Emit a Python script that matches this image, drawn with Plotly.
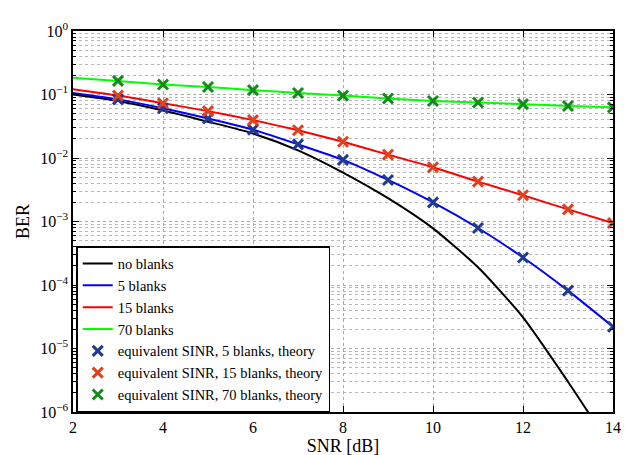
import plotly.graph_objects as go

# ---- data ----
snr_line = [2, 3, 4, 5, 6, 7, 8, 9, 10, 11, 12, 13, 14]
ber_none = [0.100, 0.079, 0.056, 0.0373, 0.0243, 0.0132, 0.0059, 0.00233, 7.8e-4, 1.9e-4, 3.1e-5, 3.0e-6, 2.5e-7]
ber_5 = [0.106, 0.0838, 0.0607, 0.0419, 0.0279, 0.0164, 0.00933, 0.00451, 0.0020, 7.9e-4, 2.71e-4, 8.15e-5, 2.2e-5]
ber_15 = [0.121, 0.0962, 0.0729, 0.0547, 0.0395, 0.0273, 0.0180, 0.0113, 0.00714, 0.00425, 0.00259, 0.00155, 9.46e-4]
ber_70 = [0.184, 0.1637, 0.144, 0.1315, 0.117, 0.1057, 0.0962, 0.0867, 0.079, 0.0747, 0.0705, 0.0658, 0.0628]

snr_th = [3, 4, 5, 6, 7, 8, 9, 10, 11, 12, 13, 14]
th_5 = [0.0838, 0.0607, 0.0419, 0.0279, 0.0164, 0.00933, 0.00451, 0.0020, 7.9e-4, 2.71e-4, 8.15e-5, 2.2e-5]
th_15 = [0.0962, 0.0729, 0.0547, 0.0395, 0.0273, 0.0180, 0.0113, 0.00714, 0.00425, 0.00259, 0.00155, 9.46e-4]
th_70 = [0.1637, 0.144, 0.1315, 0.117, 0.1057, 0.0962, 0.0867, 0.079, 0.0747, 0.0705, 0.0658, 0.0628]

x_ticks = [2, 4, 6, 8, 10, 12, 14]
y_exps = [0, -1, -2, -3, -4, -5, -6]

FONT = "Times New Roman, Liberation Serif, serif"

fig = go.Figure()
lines = [("no blanks", ber_none, "#000000"),
         ("5 blanks", ber_5, "#0000FF"),
         ("15 blanks", ber_15, "#FF0000"),
         ("70 blanks", ber_70, "#00FF00")]
for name, ys, c in lines:
    fig.add_trace(go.Scatter(x=snr_line, y=ys, mode="lines", name=name,
                             line=dict(color=c, width=2, shape="spline", smoothing=0.6)))

marks = [("equivalent SINR, 5 blanks, theory", th_5, "#1F3A93"),
         ("equivalent SINR, 15 blanks, theory", th_15, "#E0401C"),
         ("equivalent SINR, 70 blanks, theory", th_70, "#138A1A")]
for name, ys, c in marks:
    fig.add_trace(go.Scatter(x=snr_th, y=ys, mode="markers", name=name,
                             marker=dict(symbol="x-thin", size=10, color=c,
                                         line=dict(width=3, color=c))))

minor_vals = []
for e in range(-6, 0):
    for m in range(2, 10):
        minor_vals.append(m * 10 ** e)

sup = {0: "0", -1: "\u22121", -2: "\u22122", -3: "\u22123", -4: "\u22124", -5: "\u22125", -6: "\u22126"}

fig.update_layout(
    width=635, height=455,
    margin=dict(l=65, r=30, t=14, b=43),
    paper_bgcolor="white", plot_bgcolor="white",
    font=dict(family=FONT, size=15, color="black"),
    showlegend=True,
    legend=dict(x=0.006, y=0.0, xanchor="left", yanchor="bottom",
                bgcolor="white", bordercolor="black", borderwidth=1.5,
                font=dict(family=FONT, size=14.5), itemwidth=30,
                tracegroupgap=0),
    xaxis=dict(range=[2, 14], tickvals=x_ticks, ticktext=[str(v) for v in x_ticks],
               showline=True, linecolor="black", linewidth=1.5, mirror="ticks",
               ticks="inside", ticklen=6, tickcolor="black",
               showgrid=True, gridcolor="#a8a8a8", griddash="dot", gridwidth=1,
               zeroline=False,
               title=dict(text="SNR [dB]", font=dict(family=FONT, size=18), standoff=2),
               tickfont=dict(family=FONT, size=16)),
    yaxis=dict(type="log", range=[-6, 0],
               tickvals=[10 ** e for e in y_exps],
               ticktext=["10<sup>%s</sup>" % sup[e] for e in y_exps],
               showline=True, linecolor="black", linewidth=1.5, mirror="ticks",
               ticks="inside", ticklen=6, tickcolor="black",
               showgrid=True, gridcolor="#a8a8a8", griddash="dot", gridwidth=1,
               zeroline=False,
               minor=dict(tickvals=minor_vals, showgrid=True, gridcolor="#b8b8b8",
                          griddash="dot", gridwidth=1, ticks="inside", ticklen=3,
                          tickcolor="black"),
               title=dict(text="BER", font=dict(family=FONT, size=18), standoff=6),
               tickfont=dict(family=FONT, size=16)),
)

fig.write_html("out.html")
